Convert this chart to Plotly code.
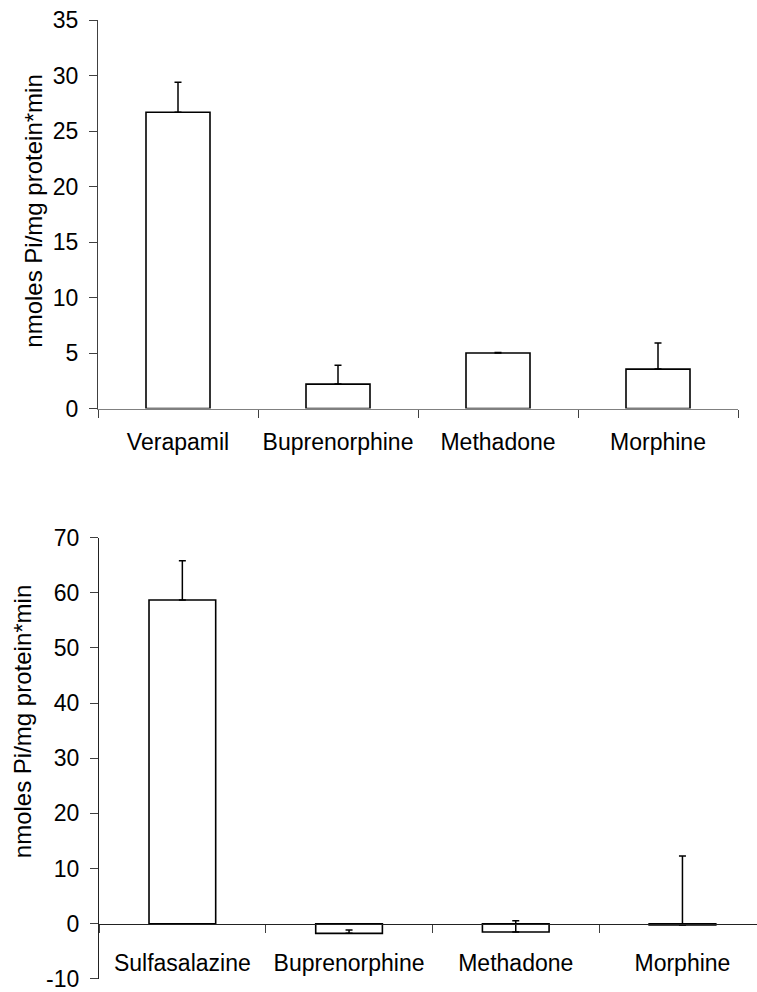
import plotly.graph_objects as go

# ---- data ----
top_categories = ["Verapamil", "Buprenorphine", "Methadone", "Morphine"]
top_values = [26.7, 2.2, 5.0, 3.55]
top_errors = [2.7, 1.7, 0.05, 2.35]

bottom_categories = ["Sulfasalazine", "Buprenorphine", "Methadone", "Morphine"]
bottom_values = [58.7, -1.75, -1.5, -0.25]
bottom_errors = [7.1, 0.6, 2.05, 12.5]

top_y_ticks = [0, 5, 10, 15, 20, 25, 30, 35]
bottom_y_ticks = [-10, 0, 10, 20, 30, 40, 50, 60, 70]
bottom_y_ticktext = ["-10", "0", "10", "20", "30", "40", "50", "60", "70"]
y_title = "nmoles Pi/mg protein*min"

# ---- layout helpers (pixel -> paper) ----
W, H = 757, 992


def fx(px):
    return px / W


def fy(py):
    return 1 - py / H


FONT = "Liberation Sans, Arial, sans-serif"
TICKFONT = dict(family=FONT, size=23, color="black")

fig = go.Figure()

bar_style = dict(
    width=0.4,
    marker=dict(color="white", line=dict(color="black", width=1.6)),
    showlegend=False,
    hoverinfo="x+y",
)

fig.add_trace(go.Bar(
    x=top_categories, y=top_values,
    error_y=dict(type="data", symmetric=False, array=top_errors,
                 arrayminus=[0] * len(top_errors),
                 color="black", thickness=1.5, width=3.5),
    xaxis="x", yaxis="y", **bar_style,
))

fig.add_trace(go.Bar(
    x=bottom_categories, y=bottom_values,
    error_y=dict(type="data", symmetric=False, array=bottom_errors,
                 arrayminus=[0] * len(bottom_errors),
                 color="black", thickness=1.5, width=3.5),
    xaxis="x2", yaxis="y2", **bar_style,
))

# bottom chart geometry
b_top_px, b_bot_px = 537.5, 979.0
b_zero_px = b_bot_px - (b_bot_px - b_top_px) * 10 / 80

# bottom x range is cut at the right edge of the page, like the reference
bottom_cat_px = 166.7
bottom_right = -0.5 + (W - 99) / bottom_cat_px

fig.update_layout(
    width=W, height=H,
    margin=dict(l=0, r=0, t=0, b=0),
    paper_bgcolor="white", plot_bgcolor="white",
    font=dict(family=FONT, color="black"),
    xaxis=dict(
        domain=[fx(98), fx(738)], anchor="y",
        type="category", range=[-0.5, 3.5],
        showline=True, linecolor="#808080", linewidth=1.3,
        ticks="outside", tickson="boundaries", ticklen=8, tickcolor="#404040",
        tickwidth=1, showgrid=False, zeroline=False,
        tickfont=TICKFONT, ticklabelstandoff=13, automargin=False,
        ticklabeloverflow="allow", fixedrange=True,
    ),
    yaxis=dict(
        domain=[fy(408.5), fy(20)], anchor="x",
        range=[0, 35.02], tickvals=top_y_ticks,
        showline=True, linecolor="#404040", linewidth=1.3,
        ticks="outside", ticklen=8, tickcolor="#404040", tickwidth=1,
        showgrid=False, zeroline=False,
        tickfont=TICKFONT, ticklabelstandoff=6, automargin=False,
        ticklabeloverflow="allow", fixedrange=True,
    ),
    xaxis2=dict(
        domain=[fx(99), 1.0], anchor="free", position=fy(b_zero_px),
        type="category", range=[-0.5, bottom_right],
        showline=True, linecolor="#222222", linewidth=1.3,
        ticks="outside", tickson="boundaries", ticklen=8, tickcolor="#404040",
        tickwidth=1, showgrid=False, zeroline=False,
        tickfont=TICKFONT, ticklabelstandoff=18, automargin=False,
        ticklabeloverflow="allow", fixedrange=True,
    ),
    yaxis2=dict(
        domain=[fy(b_bot_px), fy(b_top_px)], anchor="x2",
        range=[-10.03, 70.02], tickvals=bottom_y_ticks,
        ticktext=bottom_y_ticktext,
        showline=True, linecolor="#222222", linewidth=1.3,
        ticks="outside", ticklen=8, tickcolor="#404040", tickwidth=1,
        showgrid=False, zeroline=False,
        tickfont=TICKFONT, ticklabelstandoff=6, automargin=False,
        ticklabeloverflow="allow", fixedrange=True,
    ),
    annotations=[
        dict(text=y_title, xref="paper", yref="paper",
             x=fx(34), y=fy(211.7), xanchor="center", yanchor="middle",
             textangle=-90, showarrow=False,
             font=dict(family=FONT, size=24, color="black")),
        dict(text=y_title, xref="paper", yref="paper",
             x=fx(22.5), y=fy(721.7), xanchor="center", yanchor="middle",
             textangle=-90, showarrow=False,
             font=dict(family=FONT, size=24, color="black")),
    ],
)

fig.write_html("out.html")
